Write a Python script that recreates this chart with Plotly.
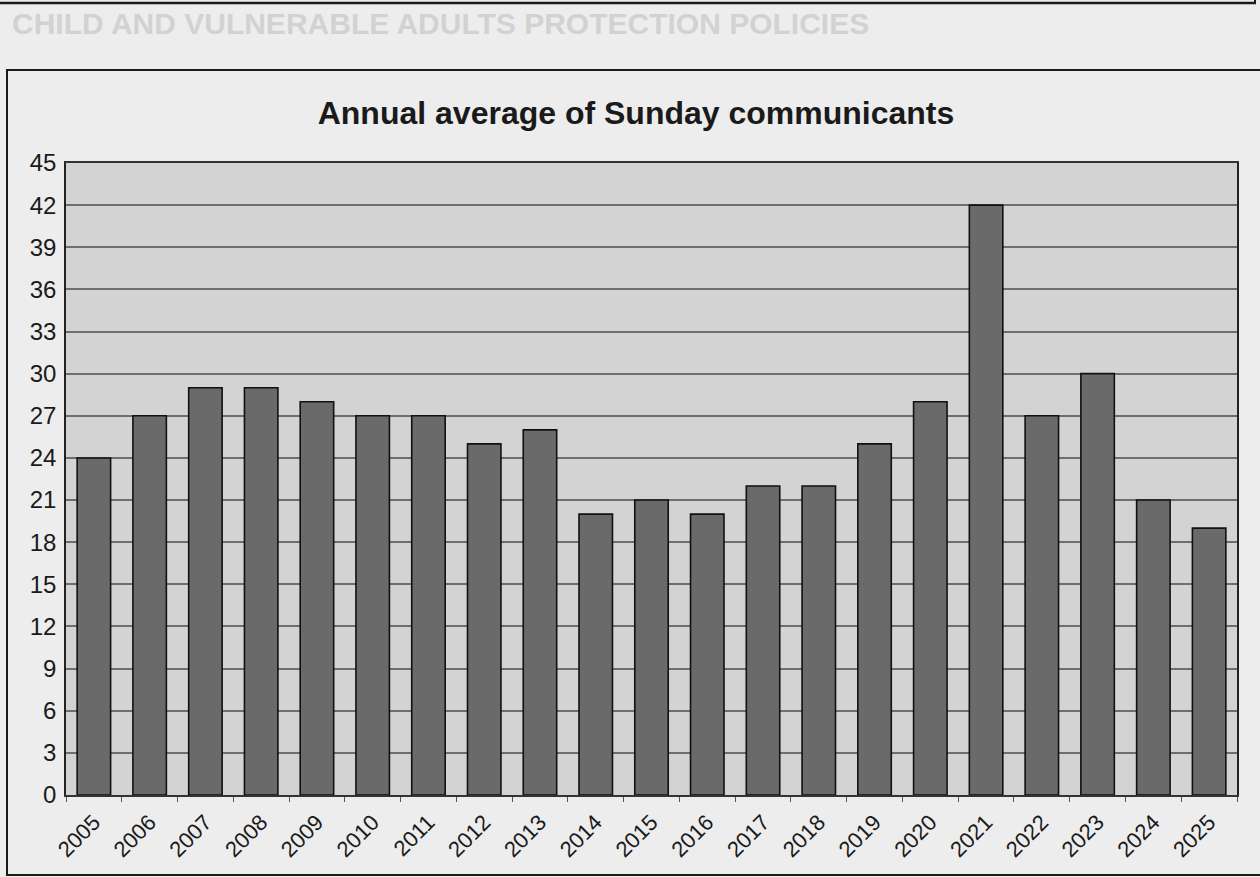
import plotly.graph_objects as go

years = [str(y) for y in range(2005, 2026)]
communicants = [24, 27, 29, 29, 28, 27, 27, 25, 26, 20, 21, 20, 22, 22, 25, 28, 42, 27, 30, 21, 19]
y_ticks = list(range(0, 46, 3))

W, H = 1260, 877
L, R, T, B = 66, 1237, 163, 795

def px(x):
    return (x - L) / (R - L)

def py(y):
    return (B - y) / (B - T)

fig = go.Figure(
    go.Bar(
        x=years,
        y=communicants,
        marker=dict(color="#6a6a6a", line=dict(color="#111111", width=1.6)),
        width=0.6,
    )
)

fig.update_layout(
    width=W,
    height=H,
    autosize=False,
    margin=dict(l=L, r=W - R, t=T, b=H - B, pad=0),
    paper_bgcolor="#ededed",
    plot_bgcolor="#d3d3d3",
    showlegend=False,
    font=dict(family="Liberation Sans, Arial, sans-serif", color="#1a1a1a"),
    title=dict(
        text="<b>Annual average of Sunday communicants</b>",
        x=px(636),
        xref="paper",
        xanchor="center",
        y=1 - 113 / H,
        yref="container",
        yanchor="middle",
        font=dict(size=32, color="#1a1a1a"),
    ),
    shapes=[
        dict(type="rect", xref="paper", yref="paper",
             x0=px(7), x1=px(1275), y0=py(875), y1=py(70),
             line=dict(color="#1a1a1a", width=2), layer="below"),
        dict(type="line", xref="paper", yref="paper",
             x0=px(-5), x1=px(1256), y0=py(3), y1=py(3),
             line=dict(color="#1a1a1a", width=2.5)),
        dict(type="line", xref="paper", yref="paper",
             x0=px(1255), x1=px(1255), y0=py(3), y1=py(-5),
             line=dict(color="#1a1a1a", width=2)),
    ],
    annotations=[
        dict(text="<b>CHILD AND VULNERABLE ADULTS PROTECTION POLICIES</b>",
             xref="paper", yref="paper", x=px(10), y=py(24),
             xanchor="left", yanchor="middle", showarrow=False,
             font=dict(size=30, color="#d2d2d2")),
    ],
)

fig.update_xaxes(
    type="category",
    tickangle=-45,
    tickfont=dict(size=22, color="#1a1a1a"),
    ticks="outside",
    tickson="boundaries",
    ticklen=5,
    tickcolor="#555555",
    ticklabelstandoff=4,
    showline=True,
    linecolor="#333333",
    linewidth=1.5,
    mirror=True,
    showgrid=False,
)

fig.update_yaxes(
    range=[0, 45],
    tickmode="array",
    tickvals=y_ticks,
    ticktext=[str(v) for v in y_ticks],
    tickfont=dict(size=24, color="#1a1a1a"),
    ticks="",
    ticklabelstandoff=3,
    showline=True,
    linecolor="#222222",
    linewidth=1.5,
    mirror=True,
    showgrid=True,
    gridcolor="#6e6e6e",
    gridwidth=1.5,
    zeroline=False,
)

fig.write_html(
    "out.html",
    config={"displayModeBar": False},
    post_script="document.body.style.margin='0';document.body.style.overflow='hidden';",
)
